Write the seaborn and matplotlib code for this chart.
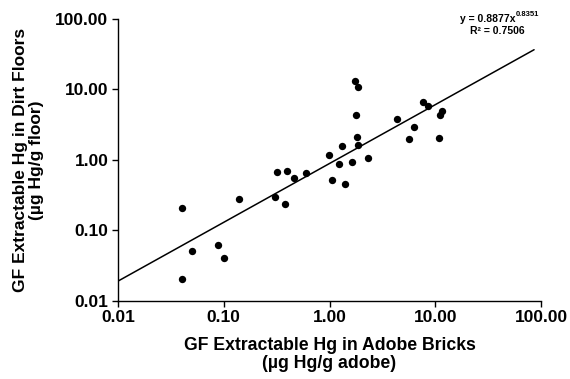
import numpy as np
import pandas as pd
import matplotlib
matplotlib.use("Agg")
import matplotlib.pyplot as plt
import seaborn as sns
from matplotlib.ticker import FixedLocator, NullLocator

# Data
adobe = [0.04, 0.04, 0.05, 0.089, 0.10, 0.138, 0.307, 0.317, 0.379, 0.40, 0.461, 0.60,
         0.99, 1.063, 1.23, 1.32, 1.41, 1.64, 1.74, 1.86, 1.78, 1.83, 1.84, 2.30,
         4.35, 5.68, 6.30, 7.71, 8.60, 10.9, 11.1, 11.6]
floor = [0.21, 0.02, 0.051, 0.061, 0.041, 0.275, 0.297, 0.673, 0.236, 0.695, 0.548, 0.652,
         1.16, 0.518, 0.883, 1.575, 0.45, 0.942, 13.2, 10.7, 4.39, 2.09, 1.61, 1.07,
         3.85, 1.96, 2.90, 6.58, 5.83, 2.07, 4.30, 4.95]
fit_a = 0.8877
fit_b = 0.8351
fit_r2 = 0.7506
fit_xrange = [0.01, 86.0]
tick_values = [0.01, 0.1, 1, 10, 100]
tick_labels = ["0.01", "0.10", "1.00", "10.00", "100.00"]

sns.set_theme(style="ticks")
plt.rcParams['font.family'] = ['Liberation Sans', 'DejaVu Sans']
for k in ["text.color", "axes.labelcolor", "xtick.color", "ytick.color", "axes.edgecolor"]:
    plt.rcParams[k] = "black"

fig = plt.figure(figsize=(5.7, 3.79), dpi=100)
ax = fig.add_axes([118/570, 1 - 300.7/379, (541-118)/570, (300.7-19)/379])

df = pd.DataFrame({"adobe": adobe, "floor": floor})
lx = np.logspace(np.log10(fit_xrange[0]), np.log10(fit_xrange[1]), 100)
line_df = pd.DataFrame({"x": lx, "y": fit_a * lx ** fit_b})

sns.lineplot(data=line_df, x="x", y="y", ax=ax, color="black", linewidth=1.1)
sns.scatterplot(data=df, x="adobe", y="floor", ax=ax, color="black", s=28,
                edgecolor="black", linewidth=0, zorder=3)

ax.set_xscale("log")
ax.set_yscale("log")
ax.set_xlim(0.01, 100)
ax.set_ylim(0.01, 100)
ax.xaxis.set_major_locator(FixedLocator(tick_values))
ax.yaxis.set_major_locator(FixedLocator(tick_values))
ax.xaxis.set_minor_locator(NullLocator())
ax.yaxis.set_minor_locator(NullLocator())
ax.set_xticklabels(tick_labels, fontsize=12.5, fontweight="bold")
ax.set_yticklabels(tick_labels, fontsize=12.5, fontweight="bold")
ax.tick_params(axis="both", direction="out", length=4, width=1, color="black", pad=3)

for s in ["top", "right"]:
    ax.spines[s].set_visible(False)
for s in ["left", "bottom"]:
    ax.spines[s].set_color("black")
    ax.spines[s].set_linewidth(1)

ax.set_xlabel("GF Extractable Hg in Adobe Bricks\n(µg Hg/g adobe)", fontsize=12.7,
              fontweight="bold", labelpad=8, linespacing=1.1)
ax.set_ylabel("GF Extractable Hg in Dirt Floors\n(µg Hg/g floor)", fontsize=12.5,
              fontweight="bold", labelpad=8, linespacing=1.1)

fig.text(515/570, 1 - 19/379, "y = %.4fx" % fit_a, ha="right", va="center",
         fontsize=7.5, fontweight="bold")
fig.text(515.5/570, 1 - 15/379, "%.4f" % fit_b, ha="left", va="center",
         fontsize=5.5, fontweight="bold")
fig.text(497/570, 1 - 31/379, "R² = %.4f" % fit_r2, ha="center", va="center",
         fontsize=7.5, fontweight="bold")

fig.savefig("out.png", dpi=100)
